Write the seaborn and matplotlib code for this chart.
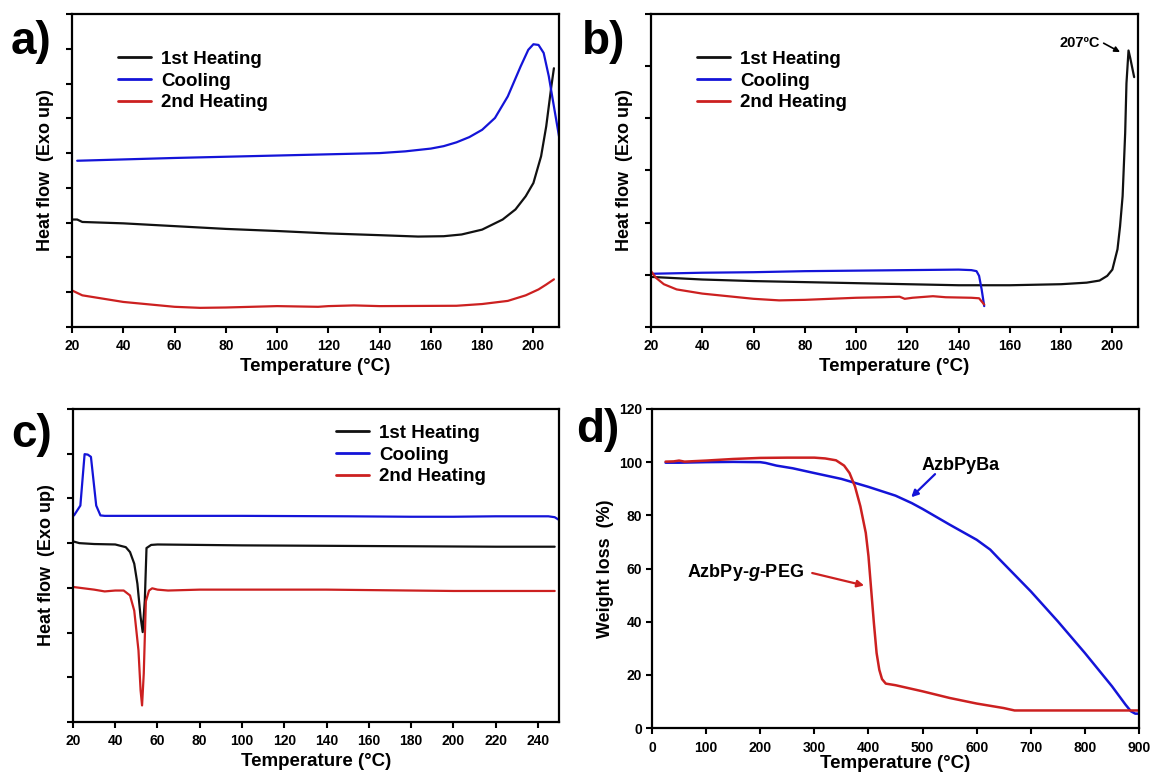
import numpy as np
import seaborn as sns
import matplotlib
matplotlib.use("Agg")
import matplotlib.pyplot as plt

# ---- panel a: DSC ----
a_heat1_t = [20, 22, 24, 40, 60, 80, 100, 120, 140, 155, 165, 172, 180, 188, 193, 197, 200, 203, 205, 207, 208]
a_heat1_y = [3.09, 3.09, 3.02, 2.98, 2.90, 2.82, 2.76, 2.69, 2.64, 2.60, 2.61, 2.66, 2.80, 3.09, 3.38, 3.76, 4.14, 4.91, 5.77, 6.92, 7.44]
a_cool_t = [22, 60, 100, 140, 150, 160, 165, 170, 175, 180, 185, 190, 195, 198, 200, 202, 204, 206, 208, 210]
a_cool_y = [4.78, 4.86, 4.93, 5.00, 5.05, 5.13, 5.20, 5.31, 5.46, 5.67, 6.01, 6.63, 7.49, 7.97, 8.13, 8.11, 7.88, 7.21, 6.34, 5.48]
a_heat2_t = [20, 24, 40, 60, 70, 80, 100, 116, 120, 130, 140, 170, 180, 190, 197, 202, 205, 208]
a_heat2_y = [1.05, 0.91, 0.72, 0.58, 0.55, 0.56, 0.60, 0.58, 0.60, 0.62, 0.60, 0.61, 0.66, 0.75, 0.91, 1.08, 1.22, 1.37]

# ---- panel b: DSC ----
b_heat1_t = [20, 40, 60, 80, 100, 120, 140, 160, 180, 190, 195, 198, 200, 202, 203, 204, 205, 205.5, 206.3, 207, 208.5]
b_heat1_y = [0.96, 0.91, 0.88, 0.86, 0.84, 0.82, 0.80, 0.80, 0.82, 0.85, 0.89, 0.98, 1.10, 1.49, 1.93, 2.51, 3.72, 4.67, 5.30, 5.15, 4.79]
b_cool_t = [20, 40, 60, 80, 100, 120, 140, 145, 147, 148, 149, 150]
b_cool_y = [1.02, 1.04, 1.05, 1.07, 1.08, 1.09, 1.10, 1.09, 1.07, 0.98, 0.72, 0.40]
b_heat2_t = [20, 22, 25, 30, 40, 50, 60, 70, 80, 90, 100, 110, 117, 119, 122, 130, 135, 145, 148, 150]
b_heat2_y = [1.07, 0.94, 0.82, 0.72, 0.64, 0.59, 0.54, 0.51, 0.52, 0.54, 0.56, 0.57, 0.58, 0.54, 0.56, 0.59, 0.57, 0.56, 0.55, 0.43]

# ---- panel c: DSC ----
c_heat1_t = [20, 23, 30, 40, 45, 47, 49, 50.5, 52, 53, 54, 54.8, 57, 60, 100, 140, 180, 220, 248]
c_heat1_y = [4.04, 4.00, 3.98, 3.97, 3.91, 3.80, 3.54, 3.09, 2.35, 2.01, 2.72, 3.89, 3.96, 3.97, 3.95, 3.94, 3.93, 3.92, 3.92]
c_cool_t = [20.5, 23.5, 25.5, 27, 28.5, 31, 33, 35, 60, 100, 150, 180, 200, 220, 245, 248, 250]
c_cool_y = [4.62, 4.84, 5.99, 5.98, 5.93, 4.84, 4.62, 4.61, 4.61, 4.61, 4.60, 4.59, 4.59, 4.60, 4.60, 4.58, 4.52]
c_heat2_t = [20, 25, 30, 35, 40, 44, 47, 49, 51, 52, 52.7, 53.5, 54.5, 56, 57.5, 60, 65, 80, 140, 200, 248]
c_heat2_y = [3.02, 2.99, 2.96, 2.92, 2.94, 2.94, 2.83, 2.49, 1.60, 0.71, 0.37, 1.08, 2.70, 2.94, 2.99, 2.96, 2.94, 2.96, 2.96, 2.93, 2.93]

# ---- panel d: TGA ----
d_ba_t = [25, 50, 100, 150, 200, 210, 230, 260, 300, 350, 400, 450, 480, 500, 550, 600, 625, 640, 700, 750, 800, 850, 875, 885, 893, 900]
d_ba_w = [99.8, 99.8, 100.0, 100.1, 100.0, 99.7, 98.7, 97.7, 95.9, 93.7, 90.7, 87.4, 84.6, 82.4, 76.5, 70.8, 67.1, 63.9, 51.4, 40.1, 28.2, 15.7, 8.8, 6.3, 5.4, 5.4]
d_peg_t = [25, 40, 50, 60, 100, 150, 200, 250, 300, 320, 340, 355, 365, 375, 385, 395, 400, 405, 410, 415, 420, 425, 432, 450, 500, 550, 600, 650, 670, 700, 800, 900]
d_peg_w = [100.2, 100.3, 100.6, 100.2, 100.6, 101.2, 101.6, 101.7, 101.7, 101.4, 100.7, 98.7, 95.9, 90.9, 83.4, 73.4, 64.6, 52.0, 39.5, 28.2, 21.9, 18.4, 16.7, 16.1, 13.8, 11.3, 9.2, 7.5, 6.6, 6.6, 6.6, 6.6]

series_labels = ["1st Heating", "Cooling", "2nd Heating"]
BLACK, BLUE, RED = "#111111", "#1414d8", "#cc2020"

sns.set_style("ticks")
plt.rcParams["font.family"] = ["Liberation Sans", "DejaVu Sans"]
plt.rcParams["font.weight"] = "bold"
plt.rcParams["axes.labelweight"] = "bold"
plt.rcParams["text.color"] = "black"
plt.rcParams["axes.labelcolor"] = "black"
plt.rcParams["mathtext.fontset"] = "custom"
plt.rcParams["mathtext.it"] = "Liberation Sans:italic:bold"
plt.rcParams["mathtext.rm"] = "Liberation Sans:bold"

fig = plt.figure(figsize=(11.51, 7.73), dpi=100)
ax_a = fig.add_axes([0.0626, 0.5770, 0.4231, 0.4049])
ax_b = fig.add_axes([0.5656, 0.5770, 0.4231, 0.4049])
ax_c = fig.add_axes([0.0634, 0.0660, 0.4222, 0.4049])
ax_d = fig.add_axes([0.5665, 0.0582, 0.4231, 0.4127])


def style(ax, xlim, xticks, ylim, yticks, ylabel, ylabels=False, xpad=3):
    ax.set_xlim(*xlim)
    ax.set_ylim(*ylim)
    ax.set_xticks(xticks)
    ax.set_yticks(yticks)
    if not ylabels:
        ax.set_yticklabels([])
    for s in ax.spines.values():
        s.set_linewidth(1.6)
        s.set_color("black")
        s.set_visible(True)
    ax.tick_params(axis="both", direction="out", length=4, width=1.5, colors="black", labelsize=10)
    ax.tick_params(axis="x", pad=5)
    ax.tick_params(axis="y", pad=3)
    for lab in ax.get_xticklabels() + ax.get_yticklabels():
        lab.set_fontweight("bold")
    ax.set_xlabel("Temperature (°C)", fontsize=13.5, labelpad=xpad)
    ax.set_ylabel(ylabel, fontsize=13, labelpad=4 if ylabels else 6)


def dsc(ax, curves):
    for (t, y), lab, col in zip(curves, series_labels, [BLACK, BLUE, RED]):
        sns.lineplot(x=t, y=y, ax=ax, color=col, linewidth=1.6, label=lab, sort=False, estimator=None)


def legend(ax, anchor):
    leg = ax.legend(loc="center left", bbox_to_anchor=anchor, frameon=False, fontsize=13.5,
                    handlelength=1.75, handletextpad=0.55, labelspacing=0.25,
                    borderpad=0, borderaxespad=0)
    for line in leg.get_lines():
        line.set_linewidth(2)


dsc(ax_a, [(a_heat1_t, a_heat1_y), (a_cool_t, a_cool_y), (a_heat2_t, a_heat2_y)])
style(ax_a, (20, 210), range(20, 201, 20), (0, 9), range(0, 10), "Heat flow  (Exo up)")
legend(ax_a, (0.094, 0.786))

dsc(ax_b, [(b_heat1_t, b_heat1_y), (b_cool_t, b_cool_y), (b_heat2_t, b_heat2_y)])
style(ax_b, (20, 210), range(20, 201, 20), (0, 6), range(0, 7), "Heat flow  (Exo up)")
legend(ax_b, (0.094, 0.786))
ax_b.text(187.4, 5.44, "207ºC", fontsize=10.5, fontweight="bold", ha="center", va="center")
ax_b.annotate("", xy=(203, 5.27), xytext=(196.6, 5.44),
              arrowprops=dict(arrowstyle="-|>", color="black", lw=1.2, mutation_scale=8, shrinkA=0, shrinkB=0))

dsc(ax_c, [(c_heat1_t, c_heat1_y), (c_cool_t, c_cool_y), (c_heat2_t, c_heat2_y)])
style(ax_c, (20, 250), range(20, 241, 20), (0, 7), range(0, 8), "Heat flow  (Exo up)")
legend(ax_c, (0.542, 0.853))

sns.lineplot(x=d_ba_t, y=d_ba_w, ax=ax_d, color=BLUE, linewidth=1.8, sort=False, estimator=None)
sns.lineplot(x=d_peg_t, y=d_peg_w, ax=ax_d, color=RED, linewidth=1.8, sort=False, estimator=None)
style(ax_d, (0, 900), range(0, 901, 100), (0, 120), range(0, 121, 20), "Weight loss  (%)",
      ylabels=True, xpad=0)
ax_d.text(570, 98.9, "AzbPyBa", fontsize=13, fontweight="bold", ha="center", va="center")
ax_d.annotate("", xy=(479, 86.8), xytext=(523, 95.5),
              arrowprops=dict(arrowstyle="-|>", color=BLUE, lw=1.6, mutation_scale=10, shrinkA=0, shrinkB=0))
ax_d.text(172, 58.5, "AzbPy-$\\mathit{g}$-PEG", fontsize=13, fontweight="bold", ha="center", va="center")
ax_d.annotate("", xy=(392, 53.6), xytext=(296, 58.3),
              arrowprops=dict(arrowstyle="-|>", color=RED, lw=1.6, mutation_scale=10, shrinkA=0, shrinkB=0))

for lab, x, y in [("a)", 11, 42), ("b)", 582, 42), ("c)", 11, 435), ("d)", 576, 430)]:
    fig.text(x / 1151, 1 - y / 773, lab, fontsize=33, fontweight="bold", ha="left", va="center")

fig.savefig("out.png", dpi=100)
